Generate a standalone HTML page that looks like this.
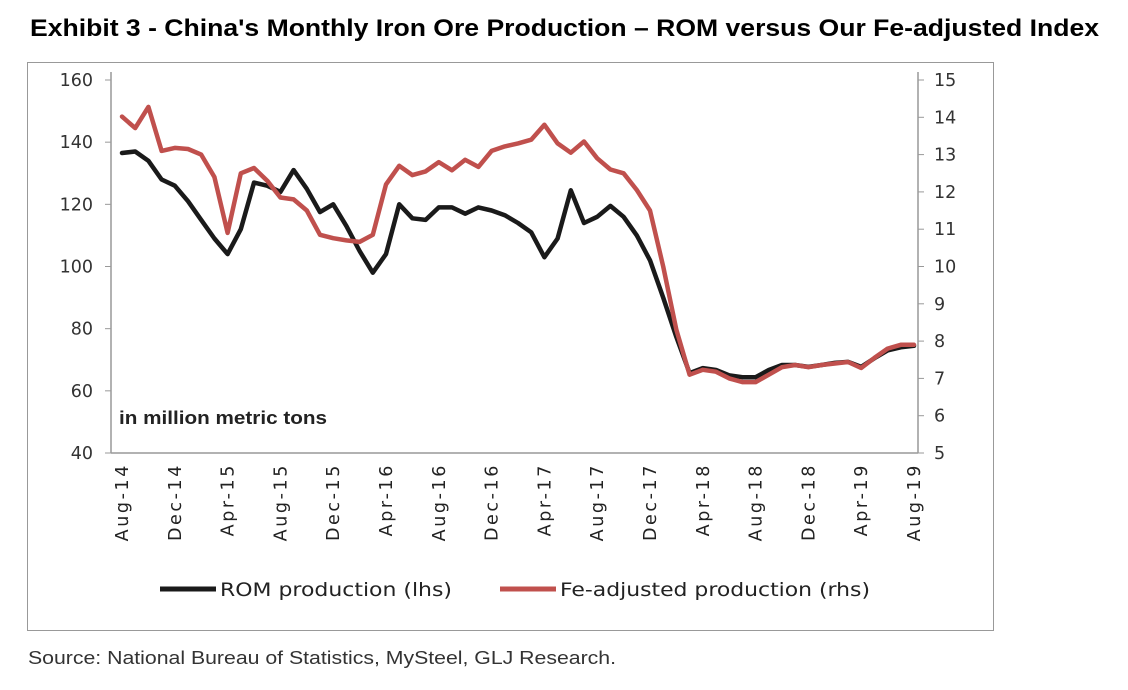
<!DOCTYPE html>
<html><head><meta charset="utf-8"><style>
body{margin:0;background:#fff;width:1128px;height:685px;overflow:hidden;font-family:"Liberation Sans",sans-serif}
</style></head><body>
<svg width="1128" height="685" xmlns="http://www.w3.org/2000/svg">
<text x="30" y="36" font-family="Liberation Sans, sans-serif" font-weight="bold" font-size="24" textLength="1069" lengthAdjust="spacingAndGlyphs" fill="#000">Exhibit 3 - China's Monthly Iron Ore Production – ROM versus Our Fe-adjusted Index</text>
<rect x="27.5" y="62.5" width="966" height="568" fill="#fff" stroke="#999"/>
<g id="axes"></g>
<g id="series"></g>
<text x="119" y="424" font-family="Liberation Sans Narrow, Liberation Sans, sans-serif" font-weight="bold" font-size="18" textLength="208" lengthAdjust="spacingAndGlyphs" fill="#222">in million metric tons</text>
<line x1="160" y1="589" x2="216" y2="589" stroke="#1a1a1a" stroke-width="5"/>
<text x="220" y="596" font-family="DejaVu Sans, sans-serif" font-size="19" textLength="232" lengthAdjust="spacingAndGlyphs" fill="#222">ROM production (lhs)</text>
<line x1="500" y1="589" x2="556" y2="589" stroke="#c0504d" stroke-width="5"/>
<text x="560" y="596" font-family="DejaVu Sans, sans-serif" font-size="19" textLength="310" lengthAdjust="spacingAndGlyphs" fill="#222">Fe-adjusted production (rhs)</text>
<text x="28" y="664" font-family="Liberation Sans, sans-serif" font-size="18.5" textLength="588" lengthAdjust="spacingAndGlyphs" fill="#333">Source: National Bureau of Statistics, MySteel, GLJ Research.</text>
</svg>
<script>
const xLabels=["Aug-14","Dec-14","Apr-15","Aug-15","Dec-15","Apr-16","Aug-16","Dec-16","Apr-17","Aug-17","Dec-17","Apr-18","Aug-18","Dec-18","Apr-19","Aug-19"];
const leftTicks=[40,60,80,100,120,140,160];
const rightTicks=[5,6,7,8,9,10,11,12,13,14,15];
const romValues=[136.5,137,134,128,126,121,115,109,104,112,127,126,124,131,125,117.5,120,113,105,98,104,120,115.5,115,119,119,117,119,118,116.5,114,111,103,109,124.5,114,116,119.5,116,110,102,90,77.3,65.7,67.3,66.7,65,64.4,64.4,66.7,68.3,68.3,67.7,68.3,69,69.3,67.7,70.5,73,74,74.5];
const feValues=[14.02,13.71,14.28,13.1,13.18,13.15,13.0,12.4,10.9,12.5,12.64,12.3,11.85,11.8,11.5,10.85,10.76,10.7,10.66,10.85,12.2,12.7,12.45,12.55,12.8,12.58,12.86,12.67,13.1,13.22,13.3,13.4,13.8,13.3,13.05,13.35,12.9,12.6,12.5,12.05,11.5,10,8.3,7.1,7.23,7.18,7.0,6.9,6.9,7.1,7.3,7.36,7.3,7.36,7.4,7.44,7.28,7.55,7.8,7.9,7.9];
const NS="http://www.w3.org/2000/svg";
const X0=122,X1=914,YT=80,YB=453,AL=111,AR=918;
const n=romValues.length;
const xs=i=>X0+(X1-X0)*i/(n-1);
const yl=v=>YB-(v-40)/(160-40)*(YB-YT);
const yr=v=>YB-(v-5)/(15-5)*(YB-YT);
function mk(t,a,p){const e=document.createElementNS(NS,t);for(const k in a)e.setAttribute(k,a[k]);p.appendChild(e);return e;}
const ax=document.getElementById('axes');
let e=mk('line',{x1:AL,y1:YT-8,x2:AL,y2:YB,stroke:'#999','stroke-width':1.5},ax);


e=mk('line',{x1:AR,y1:YT-8,x2:AR,y2:YB,stroke:'#999','stroke-width':1.5},ax);


e=mk('line',{x1:AL,y1:YB,x2:AR,y2:YB,stroke:'#999','stroke-width':1.5},ax);


leftTicks.forEach(v=>{const y=yl(v);
 const t=mk('line',{x1:AL-6,y1:y,x2:AL,y2:y,stroke:'#999'},ax);
 
 
 const l=mk('text',{x:93,y:y+6,'text-anchor':'end','font-family':'DejaVu Sans, sans-serif','font-size':17.5,fill:'#333'},ax);l.textContent=v;
 
 });
rightTicks.forEach(v=>{const y=yr(v);
 const t=mk('line',{x1:AR,y1:y,x2:AR+6,y2:y,stroke:'#999'},ax);
 
 
 const l=mk('text',{x:934,y:y+6,'font-family':'DejaVu Sans, sans-serif','font-size':17.5,fill:'#333'},ax);l.textContent=v;
 
 });
xLabels.forEach((s,k)=>{const x=xs(k*4);
 const l=mk('text',{x:0,y:0,'text-anchor':'end','font-family':'DejaVu Sans, sans-serif','font-size':17.5,'letter-spacing':'2.6',fill:'#222',transform:`translate(${x+6},463) rotate(-90)`},ax);l.textContent=s;
 
 });
const sg=document.getElementById('series');
function path(vals,f){return vals.map((v,i)=>(i?'L':'M')+xs(i).toFixed(1)+','+f(v).toFixed(1)).join(' ');}
let p=mk('path',{d:path(feValues,yr),fill:'none',stroke:'#c0504d','stroke-width':4.5,'stroke-linejoin':'round','stroke-linecap':'round'},sg);


p=mk('path',{d:path(romValues,yl),fill:'none',stroke:'#1a1a1a','stroke-width':4.5,'stroke-linejoin':'round','stroke-linecap':'round'},sg);


sg.appendChild(sg.firstChild);
</script>
</body></html>
